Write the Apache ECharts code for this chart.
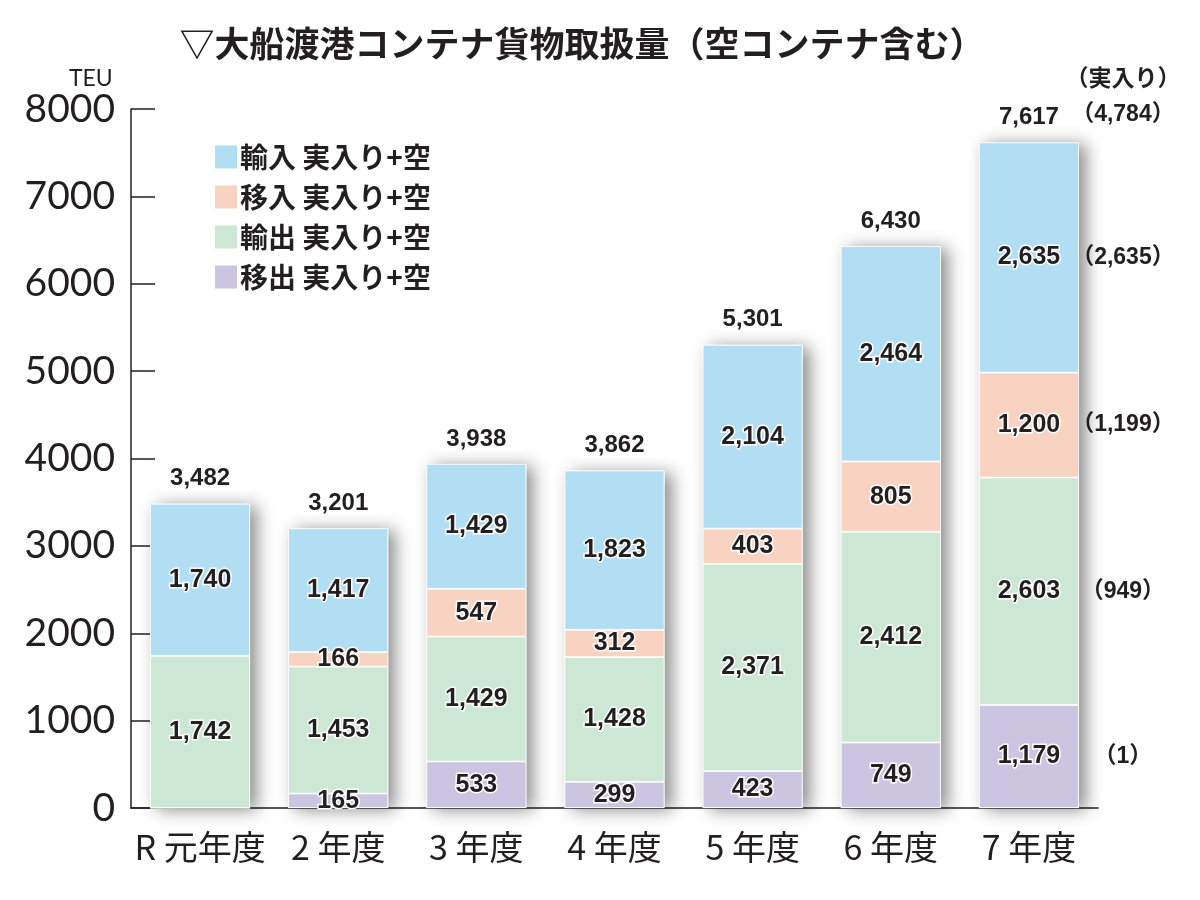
<!DOCTYPE html>
<html>
<head>
<meta charset="utf-8">
<script src="https://cdn.jsdelivr.net/npm/echarts@6/dist/echarts.min.js"></script>
<style>
  html, body { margin: 0; padding: 0; background: #fff; }
  #chart { width: 1200px; height: 900px; }
</style>
</head>
<body>
<div id="chart"></div>
<script>
var categories = ['R 元年度', '2 年度', '3 年度', '4 年度', '5 年度', '6 年度', '7 年度'];
var yunyu = [1740, 1417, 1429, 1823, 2104, 2464, 2635];    // 輸入
var inyu = [0, 166, 547, 312, 403, 805, 1200];             // 移入
var yushutsu = [1742, 1453, 1429, 1428, 2371, 2412, 2603]; // 輸出
var ishutsu = [0, 165, 533, 299, 423, 749, 1179];          // 移出
// 7年度 実入り (bottom to top: 移出, 輸出, 移入, 輸入) and its total
var jitsuiri = [1, 949, 1199, 2635];
var jitsuiriTotal = 4784;
var yTicks = [0, 1000, 2000, 3000, 4000, 5000, 6000, 7000, 8000];

var ink = '#231f20';
var numFont = '"Liberation Sans", "Noto Sans CJK JP", sans-serif';
var jpFont = '"Noto Sans CJK JP", sans-serif';

var totals = categories.map(function (c, i) {
    return ishutsu[i] + yushutsu[i] + inyu[i] + yunyu[i];
});

function fmt(v) {
    return v.toLocaleString('en-US');
}

var innerLabel = {
    show: true,
    position: 'inside',
    fontFamily: numFont,
    fontWeight: 'bold',
    fontSize: 25,
    color: ink,
    textBorderColor: '#fff',
    textBorderWidth: 3,
    formatter: function (p) { return p.value ? fmt(p.value) : ''; }
};

function stackSeries(name, data, color) {
    return {
        name: name,
        type: 'bar',
        stack: 'all',
        barWidth: 100,
        data: data,
        itemStyle: { color: color, borderColor: '#fff', borderWidth: 0.8 },
        label: innerLabel,
        z: 3
    };
}

// 実入り notes for the last year, placed at the middle of each segment
var lastIdx = categories.length - 1;
var segs = [ishutsu[lastIdx], yushutsu[lastIdx], inyu[lastIdx], yunyu[lastIdx]];
var noteData = [];
var base = 0;
segs.forEach(function (s, k) {
    noteData.push({ value: [lastIdx, base + s / 2], note: '（' + fmt(jitsuiri[k]) + '）' });
    base += s;
});
noteData.push({ value: [lastIdx, totals[lastIdx]], note: '（' + fmt(jitsuiriTotal) + '）', dy: -28 });
noteData.push({ value: [lastIdx, totals[lastIdx]], note: '（実入り）', dy: -63 });

var myChart = echarts.init(document.getElementById('chart'));
myChart.setOption({
    animation: false,
    backgroundColor: '#fff',
    title: [{
        text: '▽大船渡港コンテナ貨物取扱量（空コンテナ含む）',
        left: 577,
        top: 21,
        textAlign: 'center',
        textStyle: { fontFamily: jpFont, fontWeight: 'bold', fontSize: 35, color: ink }
    }, {
        text: 'TEU',
        left: 64,
        top: 62,
        textStyle: { fontFamily: 'Lato, sans-serif', fontWeight: 'normal', fontSize: 23, color: ink }
    }],
    legend: {
        orient: 'vertical',
        left: 213,
        top: 143,
        padding: 0,
        itemWidth: 24,
        itemHeight: 25,
        itemGap: 12,
        icon: 'rect',
        data: ['輸入 実入り+空', '移入 実入り+空', '輸出 実入り+空', '移出 実入り+空'],
        textStyle: { fontFamily: jpFont, fontWeight: 'bold', fontSize: 28, color: ink, padding: [0, 0, 0, -3] }
    },
    grid: { left: 131, right: 102, top: 109, bottom: 92 },
    xAxis: {
        type: 'category',
        data: categories,
        axisLine: { lineStyle: { color: ink, width: 1.5 } },
        axisTick: { inside: true, length: 18, lineStyle: { color: ink, width: 1.5 } },
        axisLabel: { interval: 0, margin: 22, fontFamily: jpFont, fontSize: 34, color: ink }
    },
    yAxis: {
        type: 'value',
        min: 0,
        max: yTicks[yTicks.length - 1],
        interval: 1000,
        splitLine: { show: false },
        axisLine: { show: true, lineStyle: { color: ink, width: 1.5 } },
        axisTick: { show: true, inside: true, length: 24, lineStyle: { color: ink, width: 1.5 } },
        axisLabel: {
            margin: 16, fontFamily: 'Lato, sans-serif', fontSize: 39, color: ink,
            formatter: function (v) { return String(v); }
        }
    },
    series: [
        {
            name: 'total',
            type: 'bar',
            barWidth: 100,
            barGap: '-100%',
            data: totals,
            z: 2,
            itemStyle: {
                color: '#fff',
                shadowColor: 'rgba(0,0,0,0.45)',
                shadowBlur: 16,
                shadowOffsetX: 7,
                shadowOffsetY: 2
            },
            label: {
                show: true,
                position: 'top',
                distance: 13,
                fontFamily: numFont,
                fontWeight: 'bold',
                fontSize: 24,
                color: ink,
                formatter: function (p) { return fmt(p.value); }
            }
        },
        stackSeries('移出 実入り+空', ishutsu, '#cbc5e1'),
        stackSeries('輸出 実入り+空', yushutsu, '#cde7d5'),
        stackSeries('移入 実入り+空', inyu, '#f9d3c2'),
        stackSeries('輸入 実入り+空', yunyu, '#b2def4'),
        {
            type: 'scatter',
            symbolSize: 0,
            data: noteData,
            z: 5,
            itemStyle: { opacity: 1 },
            label: {
                show: true,
                position: 'inside',
                fontFamily: numFont,
                fontWeight: 'bold',
                fontSize: 23,
                color: ink,
                opacity: 1,
                formatter: function (p) { return p.data.note; }
            },
            labelLayout: function (params) {
                var d = noteData[params.dataIndex];
                return { dx: 94, dy: d.dy || 0 };
            }
        }
    ]
});
</script>
</body>
</html>
